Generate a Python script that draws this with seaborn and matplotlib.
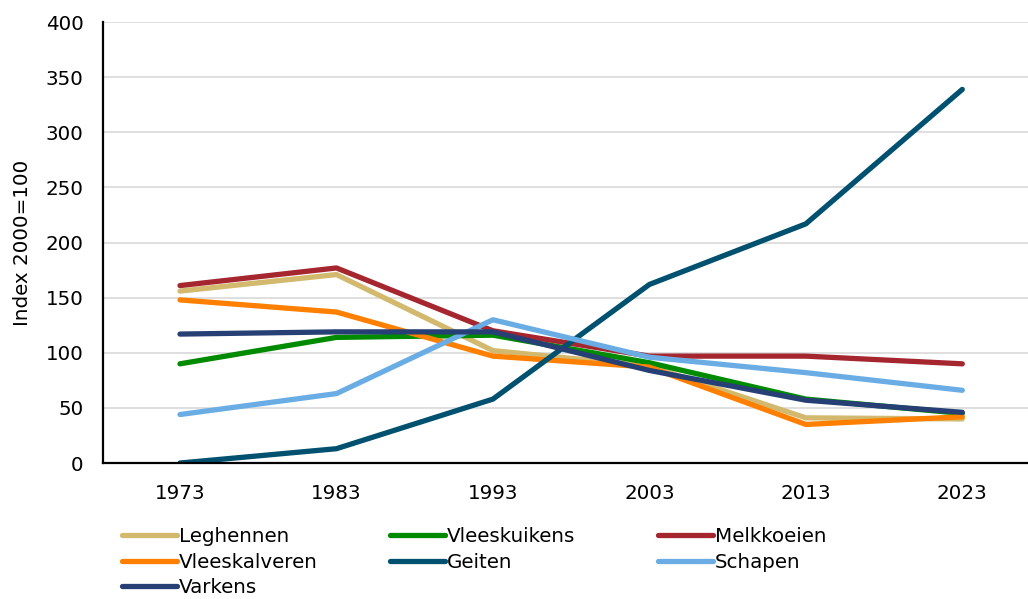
import matplotlib.pyplot as plt
import seaborn as sns
import pandas as pd

years = [1973, 1983, 1993, 2003, 2013, 2023]

leghennen = [156, 171, 102, 88, 41, 40]
vleeskuikens = [90, 114, 116, 91, 58, 45]
melkkoeien = [161, 177, 120, 97, 97, 90]
vleeskalveren = [148, 137, 97, 87, 35, 42]
geiten = [0, 13, 58, 162, 217, 339]
schapen = [44, 63, 130, 96, 82, 66]
varkens = [117, 119, 119, 84, 57, 46]

series = {
    'Leghennen': leghennen,
    'Vleeskuikens': vleeskuikens,
    'Melkkoeien': melkkoeien,
    'Vleeskalveren': vleeskalveren,
    'Geiten': geiten,
    'Schapen': schapen,
    'Varkens': varkens,
}
colors = {
    'Leghennen': '#D2B96E',
    'Vleeskuikens': '#008A00',
    'Melkkoeien': '#A5262F',
    'Vleeskalveren': '#FF7F00',
    'Geiten': '#00506F',
    'Schapen': '#6AADE4',
    'Varkens': '#263F74',
}

rows = []
for name, vals in series.items():
    for i, v in enumerate(vals):
        rows.append({'pos': i, 'jaar': years[i], 'dier': name, 'index': v})
df = pd.DataFrame(rows)

sns.set_style('white')
plt.rcParams['font.family'] = ['DejaVu Sans']
plt.rcParams['text.color'] = 'black'
plt.rcParams['xtick.color'] = 'black'
plt.rcParams['ytick.color'] = 'black'
plt.rcParams['axes.labelcolor'] = 'black'
fs = 14.3

fig = plt.figure(figsize=(10.28, 5.99), dpi=100)
ax = fig.add_axes([0.1002, 0.227, 0.8998, 0.736])

sns.lineplot(data=df, x='pos', y='index', hue='dier', hue_order=list(series),
             palette=colors, linewidth=3.8, ax=ax, legend=True,
             solid_capstyle='round')

ax.set_xlim(-0.492, 5.42)
ax.set_ylim(0, 400)
ax.set_yticks(range(0, 401, 50))
ax.set_xticks(range(len(years)))
ax.set_xticklabels([str(y) for y in years])
ax.grid(axis='y', color='#D9D9D9', linewidth=1.2)
ax.set_axisbelow(True)
ax.tick_params(axis='both', length=0, labelsize=fs)
ax.tick_params(axis='y', pad=14)
ax.tick_params(axis='x', pad=15)
ax.set_xlabel('')
ax.set_ylabel('Index 2000=100', fontsize=fs, labelpad=10)
for s in ['top', 'right']:
    ax.spines[s].set_visible(False)
for s in ['left', 'bottom']:
    ax.spines[s].set_color('black')
    ax.spines[s].set_linewidth(1.6)

handles, labels = ax.get_legend_handles_labels()
ax.get_legend().remove()
hmap = dict(zip(labels, handles))
columns = [['Leghennen', 'Vleeskalveren', 'Varkens'],
           ['Vleeskuikens', 'Geiten'],
           ['Melkkoeien', 'Schapen']]
col_x = [122, 390, 658]
for cx, col in zip(col_x, columns):
    leg = fig.legend([hmap[n] for n in col], col, loc='upper left',
                     bbox_to_anchor=(cx / 1028, 1 - 527 / 599),
                     frameon=False, fontsize=fs, handlelength=2.75,
                     handletextpad=0.12, labelspacing=0.33,
                     borderpad=0, borderaxespad=0)
    for ln in leg.get_lines():
        ln.set_linewidth(3.8)

fig.savefig('out.png', dpi=100)
